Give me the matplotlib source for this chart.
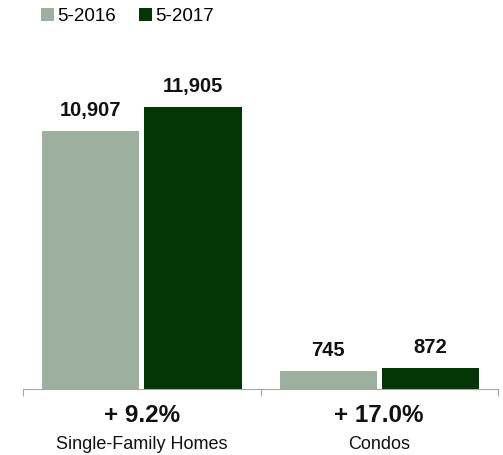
import matplotlib.pyplot as plt
import numpy as np

# data
categories = ["Single-Family Homes", "Condos"]
series_names = ["5-2016", "5-2017"]
sales_2016 = [10907, 745]
sales_2017 = [11905, 872]
colors = ["#9daf9f", "#033604"]

plt.rcParams['font.family'] = ['Liberation Sans', 'DejaVu Sans']

fig = plt.figure(figsize=(5.03, 4.55), dpi=100)
ax = fig.add_axes([23 / 503, 66 / 455, 475 / 503, 329 / 455])

x = np.arange(len(categories))
w = 0.41
off = 0.215
b1 = ax.bar(x - off, sales_2016, w, color=colors[0], label=series_names[0])
b2 = ax.bar(x + off, sales_2017, w, color=colors[1], label=series_names[1])

for bars in (b1, b2):
    for r in bars:
        ax.annotate(f"{int(r.get_height()):,}", (r.get_x() + r.get_width() / 2, r.get_height()),
                    xytext=(0, 8), textcoords="offset points", ha="center", va="bottom",
                    fontsize=14.5, fontweight="bold", color="#111111")

for i, cat in enumerate(categories):
    pct = (sales_2017[i] / sales_2016[i] - 1) * 100
    ax.text(x[i], -0.08, f"+ {pct:.1f}%", transform=ax.get_xaxis_transform(),
            ha="center", va="center", fontsize=17.5, fontweight="bold", color="#111111")
    ax.text(x[i], -0.168, cat, transform=ax.get_xaxis_transform(),
            ha="center", va="center", fontsize=13, color="#111111")

ax.set_xlim(-0.5, 1.5)
ax.set_ylim(0, 13890)
for s in ["top", "right", "left"]:
    ax.spines[s].set_visible(False)
ax.spines["bottom"].set_color("#a6a6a6")
ax.set_yticks([])
ax.set_xticks([-0.5, 0.5, 1.5])
ax.set_xticklabels([])
ax.tick_params(axis="x", direction="out", length=5, color="#a6a6a6")

ax.legend(loc="upper left", bbox_to_anchor=(0.066, 1.0), bbox_transform=fig.transFigure,
          ncol=2, frameon=False, fontsize=13.5, handlelength=0.7, handleheight=0.7,
          handletextpad=0.2, columnspacing=1.2, borderaxespad=0)

fig.savefig("out.png", dpi=100)
